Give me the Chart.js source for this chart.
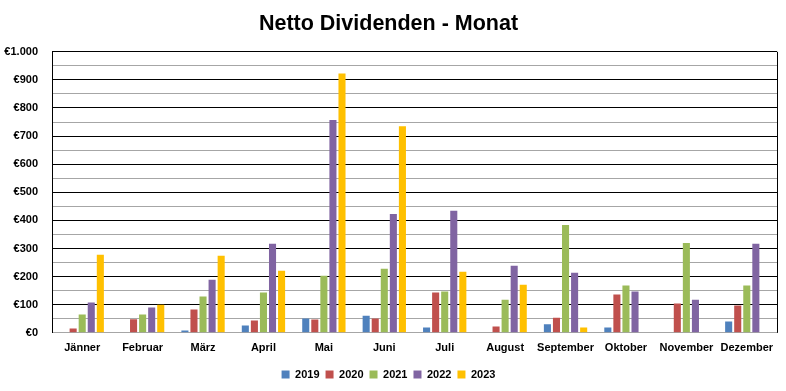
<!DOCTYPE html>
<html>
<head>
  <meta charset="UTF-8">
  <title>Netto Dividenden - Monat</title>
  <script src="https://cdn.jsdelivr.net/npm/chart.js"></script>
  <style>
    html, body { margin: 0; padding: 0; background: #fff; }
    #wrap { width: 786px; height: 391px; }
  </style>
</head>
<body>
  <div id="wrap"><canvas id="divChart" width="786" height="391"></canvas></div>

  <script>
    const months = ['Jänner', 'Februar', 'März', 'April', 'Mai', 'Juni', 'Juli', 'August', 'September', 'Oktober', 'November', 'Dezember'];
    const d2019 = [0, 0, 8, 26, 51, 61, 19, 0, 30, 19, 0, 40];
    const d2020 = [15, 48, 83, 44, 47, 51, 143, 22, 54, 136, 104, 97];
    const d2021 = [65, 65, 129, 143, 203, 228, 147, 118, 384, 168, 320, 168];
    const d2022 = [108, 90, 189, 317, 757, 423, 434, 239, 214, 147, 118, 317];
    const d2023 = [278, 100, 274, 221, 923, 735, 217, 171, 19, 0, 0, 0];

    const font = "'Liberation Sans', Arial, sans-serif";

    // rechter Rand des Diagrammbereichs
    const frame = {
      id: 'frame',
      afterDraw(chart) {
        const { ctx, chartArea: a } = chart;
        ctx.save();
        ctx.strokeStyle = '#000';
        ctx.lineWidth = 1;
        ctx.beginPath();
        ctx.moveTo(Math.round(a.right) + 0.5, a.top);
        ctx.lineTo(Math.round(a.right) + 0.5, a.bottom);
        ctx.stroke();
        ctx.restore();
      }
    };

    new Chart(document.getElementById('divChart'), {
      type: 'bar',
      data: {
        labels: months,
        datasets: [
          { label: '2019', data: d2019, backgroundColor: '#4F81BD' },
          { label: '2020', data: d2020, backgroundColor: '#C0504D' },
          { label: '2021', data: d2021, backgroundColor: '#9BBB59' },
          { label: '2022', data: d2022, backgroundColor: '#8064A2' },
          { label: '2023', data: d2023, backgroundColor: '#FFC000' }
        ]
      },
      options: {
        responsive: false,
        animation: false,
        categoryPercentage: 0.75,
        barPercentage: 0.78,
        layout: { padding: { left: 0, right: 9, top: 0, bottom: 1 } },
        plugins: {
          title: {
            display: true,
            text: 'Netto Dividenden - Monat',
            color: '#000',
            font: { family: font, size: 21.5, weight: 'bold' },
            padding: { top: 11, bottom: 15 }
          },
          legend: {
            position: 'bottom',
            labels: {
              color: '#000',
              boxWidth: 8,
              boxHeight: 8,
              padding: 6,
              font: { family: font, size: 11, weight: 'bold' }
            }
          },
          tooltip: { enabled: false }
        },
        scales: {
          x: {
            grid: { display: false },
            border: { color: '#a6a6a6' },
            afterFit: (s) => { s.height += 7; },
            ticks: {
              color: '#000',
              maxRotation: 0,
              padding: 1,
              font: { family: font, size: 11, weight: 'bold' }
            }
          },
          y: {
            min: 0,
            max: 1000,
            border: { color: '#000' },
            afterFit: (s) => { s.width = 52; },
            grid: {
              color: (c) => (c.tick.value % 100 === 0 ? '#000' : '#a6a6a6'),
              drawTicks: false
            },
            ticks: {
              stepSize: 50,
              autoSkip: false,
              maxTicksLimit: 21,
              color: '#000',
              padding: 14,
              font: { family: font, size: 11, weight: 'bold' },
              callback: (v) => (v % 100 === 0 ? '€' + (v === 1000 ? '1.000' : v) : '')
            }
          }
        }
      },
      plugins: [frame]
    });
  </script>
</body>
</html>
